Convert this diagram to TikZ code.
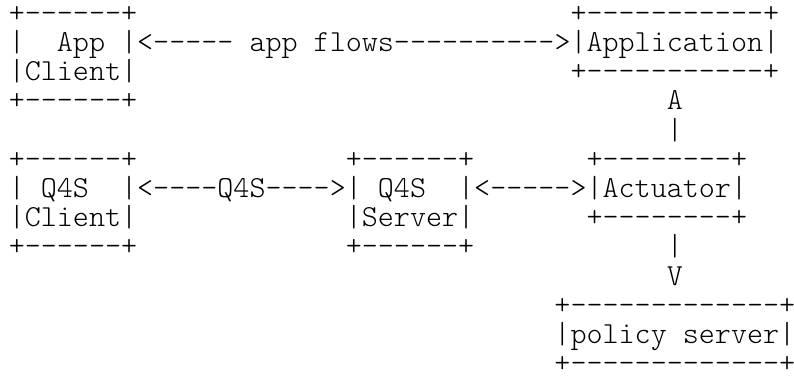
\documentclass[tikz,border=0pt]{standalone}
\newcommand{\ascii}{\ttfamily\fontseries{l}\fontsize{22.93pt}{21.875pt}\selectfont}

\begin{document}
\begin{tikzpicture}[x=12.0375pt, y=-21.875pt,
    every node/.style={font=\ascii, inner sep=0pt, anchor=base west, align=left}]
    \useasboundingbox (-0.53,-0.771) rectangle (48.94,12.119);

    % boxes (placed at their last line)
    \node (appc) at (0, 3) {+------+\\|~~App~|\\|Client|\\+------+};
    \node (appl) at (35, 2) {+-----------+\\|Application|\\+-----------+};
    \node (qc) at (0, 8) {+------+\\|~Q4S~~|\\|Client|\\+------+};
    \node (qs) at (21, 8) {+------+\\|~Q4S~~|\\|Server|\\+------+};
    \node (act) at (36, 7) {+--------+\\|Actuator|\\+--------+};
    \node (pol) at (34, 12) {+-------------+\\|policy~server|\\+-------------+};

    % flows
    \node (appflow) at (8, 1) {<-----~app~flows---------->};
    \node (qflow) at (8, 6) {<----Q4S---->};
    \node (actflow) at (29, 6) {<----->};
    \node (up) at (41, 4) {A\\|};
    \node (down) at (41, 9) {|\\V};
\end{tikzpicture}
\end{document}
